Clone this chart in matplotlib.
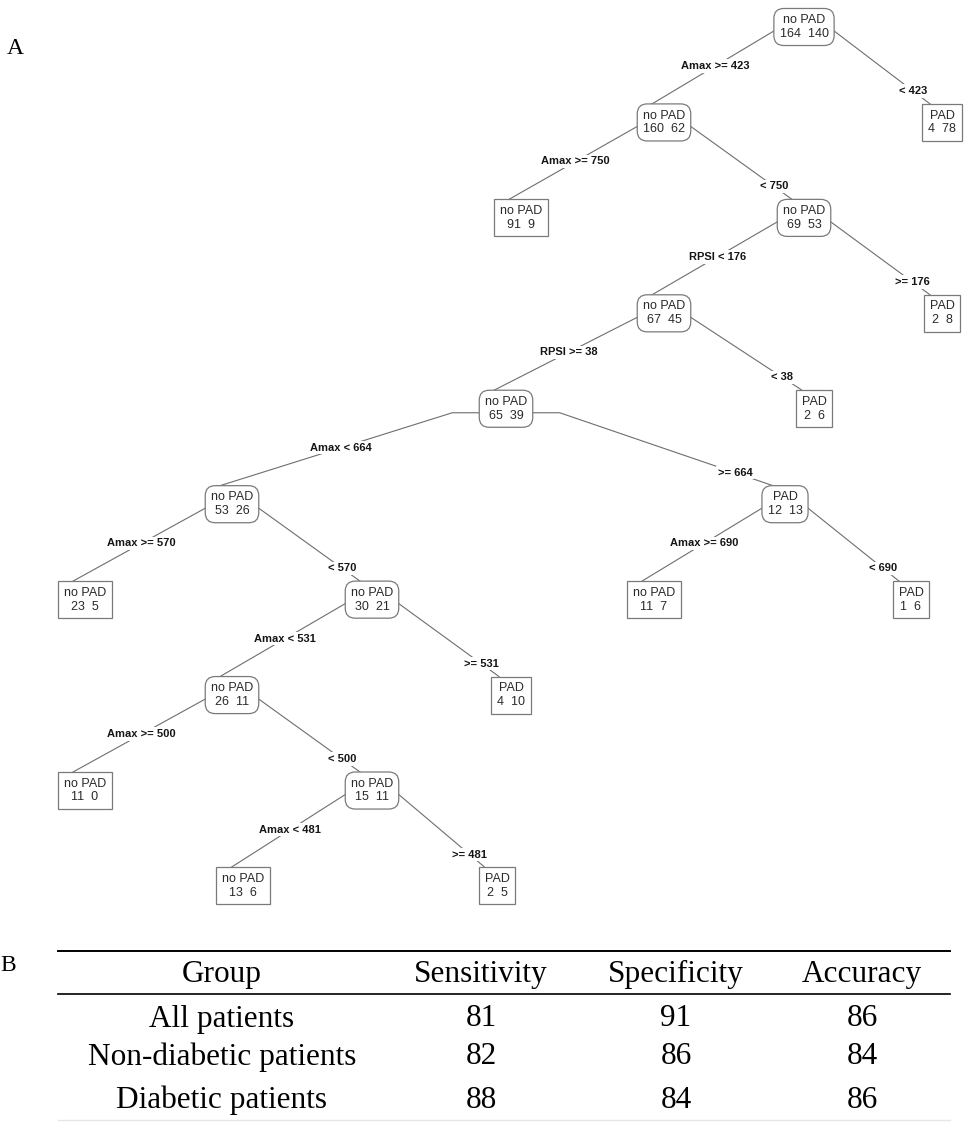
#!/usr/bin/env python3
# -*- coding: utf-8 -*-
# classification tree for PAD (panel A) and performance table (panel B)

import matplotlib
matplotlib.use('Agg')
import matplotlib.pyplot as plt

# -----------------------------------------------------
# tree data
# -----------------------------------------------------

node_class = ['no PAD', 'no PAD', 'PAD', 'no PAD', 'no PAD', 'no PAD', 'PAD',
              'no PAD', 'PAD', 'no PAD', 'PAD', 'no PAD', 'no PAD', 'no PAD',
              'PAD', 'no PAD', 'PAD', 'no PAD', 'no PAD', 'no PAD', 'PAD']
n_nopad = [164, 160, 4, 91, 69, 67, 2, 65, 2, 53, 12, 23, 30, 11, 1, 26, 4, 11, 15, 13, 2]
n_pad = [140, 62, 78, 9, 53, 45, 8, 39, 6, 26, 13, 5, 21, 7, 6, 11, 10, 0, 11, 6, 5]
parent = [None, 0, 0, 1, 1, 4, 4, 5, 5, 7, 7, 9, 9, 10, 10, 12, 12, 15, 15, 18, 18]
split_label = [None, 'Amax >= 423', '< 423', 'Amax >= 750', '< 750',
               'RPSI < 176', '>= 176', 'RPSI >= 38', '< 38',
               'Amax < 664', '>= 664', 'Amax >= 570', '< 570',
               'Amax >= 690', '< 690', 'Amax < 531', '>= 531',
               'Amax >= 500', '< 500', 'Amax < 481', '>= 481']

# horizontal placement of each node (pixels)
node_x = [804, 664, 942, 521, 804, 664, 942, 506, 814, 232, 785,
          85, 372, 654, 911, 232, 511, 85, 372, 243, 497]

# -----------------------------------------------------
# table data
# -----------------------------------------------------

table_cols = ['Group', 'Sensitivity', 'Specificity', 'Accuracy']
groups = ['All patients', 'Non-diabetic patients', 'Diabetic patients']
sensitivity = [81, 82, 88]
specificity = [91, 86, 84]
accuracy = [86, 84, 86]

# -----------------------------------------------------
# figure
# -----------------------------------------------------

W, H = 968, 1122
fig = plt.figure(figsize=(W / 100, H / 100), dpi=100)
ax = fig.add_axes([0, 0, 1, 1])
ax.set_xlim(0, W)
ax.set_ylim(H, 0)
ax.axis('off')

y0, dy = 27, 95.44
box_col = '#7a7a7a'
txt_col = '#2a2a2a'

def depth(i):
    d = 0
    while parent[i] is not None:
        i = parent[i]
        d += 1
    return d

internal = set(p for p in parent if p is not None)

# nodes
texts = []
for i in range(len(node_class)):
    style = 'round,pad=0.45,rounding_size=0.8' if i in internal else 'square,pad=0.45'
    t = ax.text(node_x[i], y0 + depth(i) * dy,
                '%s\n%d  %d' % (node_class[i], n_nopad[i], n_pad[i]),
                ha='center', va='center', fontsize=9, family='Liberation Sans',
                color=txt_col, linespacing=1.2, zorder=3,
                bbox=dict(boxstyle=style, fc='white', ec=box_col, lw=0.9))
    texts.append(t)

fig.canvas.draw()
renderer = fig.canvas.get_renderer()
inv = ax.transData.inverted()
extent = []
for t in texts:
    bb = t.get_bbox_patch().get_window_extent(renderer)
    (xa, ya), (xb, yb) = inv.transform([[bb.x0, bb.y0], [bb.x1, bb.y1]])
    extent.append((min(xa, xb), max(xa, xb), min(ya, yb), max(ya, yb)))

# branches with split labels
for i in range(len(node_class)):
    p = parent[i]
    if p is None:
        continue
    left = node_x[i] < node_x[p]
    py = y0 + depth(p) * dy + 4
    px = extent[p][0] if left else extent[p][1]
    cx = node_x[i] - 12
    cy = extent[i][2]
    xs, ys = [px], [py]
    # short horizontal stub for shallow branches
    if abs(cx - px) > 2.5 * (cy - py):
        px = px - 27 if left else px + 27
        xs.append(px)
        ys.append(py)
    xs.append(cx)
    ys.append(cy)
    ax.plot(xs, ys, color='#6e6e6e', lw=0.8, zorder=1)

    ly = y0 + depth(p) * dy + (39 if left else 64)
    f = (ly - py) / (cy - py)
    lx = px + f * (cx - px)
    ax.text(lx, ly, split_label[i], ha='center', va='center', fontsize=8,
            fontweight='bold', family='Liberation Sans', color='#151515', zorder=2,
            bbox=dict(boxstyle='square,pad=0.15', fc='white', ec='none'))

# panel letters
ax.text(7, 48, 'A', fontsize=17, family='Liberation Serif', va='center', ha='left')
ax.text(0, 965, 'B', fontsize=17, family='Liberation Serif', va='center', ha='left')

# -----------------------------------------------------
# table
# -----------------------------------------------------

col_x = [222, 481, 676, 862]
ax.plot([58, 950], [951, 951], color='black', lw=1.4)
ax.plot([58, 950], [994, 994], color='black', lw=1.2)
ax.plot([58, 950], [1120, 1120], color='#e6e6e6', lw=1.0)

for x, c in zip(col_x, table_cols):
    ax.text(x, 974, c, ha='center', va='center', fontsize=22.5,
            family='Liberation Serif', color='black')

row_y = [1019, 1057, 1100]
for r in range(len(groups)):
    vals = [groups[r], sensitivity[r], specificity[r], accuracy[r]]
    for x, v in zip(col_x, vals):
        ax.text(x, row_y[r], str(v), ha='center', va='center', fontsize=22.5,
                family='Liberation Serif', color='black')

plt.savefig('out.png', dpi=100)
plt.close()
